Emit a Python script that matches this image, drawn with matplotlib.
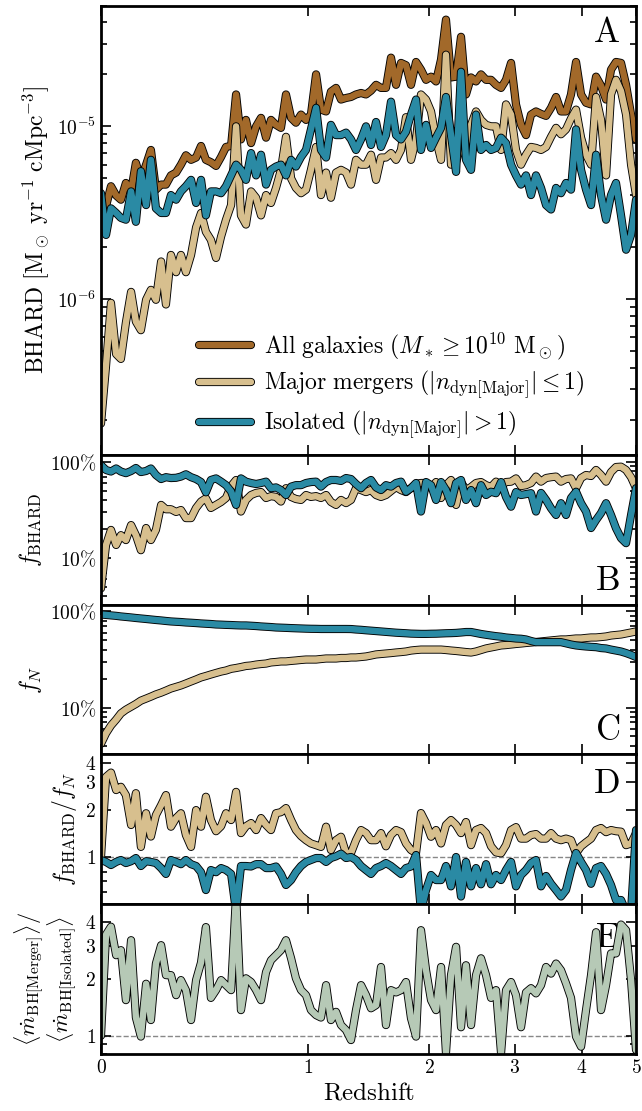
import numpy as np
import matplotlib
matplotlib.use('Agg')
import matplotlib.pyplot as plt
import matplotlib.patheffects as pe
from matplotlib.ticker import FixedLocator, FixedFormatter, NullFormatter, LogLocator

plt.rcParams['font.family'] = 'serif'
plt.rcParams['font.serif'] = ['cmr10']
plt.rcParams['mathtext.fontset'] = 'cm'
plt.rcParams['axes.unicode_minus'] = False
plt.rcParams['axes.formatter.use_mathtext'] = True

# sample redshifts
redshift = [0.000, 0.017, 0.034, 0.052, 0.069, 0.087, 0.106, 0.124, 0.143, 0.163,
            0.182, 0.202, 0.223, 0.243, 0.264, 0.286, 0.307, 0.329, 0.352, 0.375,
            0.398, 0.421, 0.445, 0.470, 0.495, 0.520, 0.546, 0.572, 0.598, 0.625,
            0.653, 0.681, 0.709, 0.738, 0.767, 0.797, 0.827, 0.858, 0.890, 0.921,
            0.954, 0.987, 1.020, 1.055, 1.089, 1.125, 1.160, 1.197, 1.234, 1.272,
            1.310, 1.349, 1.389, 1.429, 1.470, 1.512, 1.554, 1.597, 1.641, 1.686,
            1.731, 1.777, 1.824, 1.872, 1.920, 1.970, 2.020, 2.071, 2.123, 2.175,
            2.229, 2.284, 2.339, 2.395, 2.453, 2.511, 2.570, 2.631, 2.692, 2.754,
            2.818, 2.882, 2.948, 3.014, 3.082, 3.151, 3.221, 3.292, 3.365, 3.439,
            3.514, 3.590, 3.667, 3.746, 3.826, 3.908, 3.991, 4.075, 4.161, 4.248,
            4.336, 4.427, 4.518, 4.611, 4.706, 4.803, 4.901, 5.000]

# BHARD in units of 1e-6 Msun / yr / cMpc^3
bhard_all = [3.95, 3.45, 4.5, 3.98, 3.76, 4.7, 4.2, 6.15, 4.9, 6.0,
             7.3, 4.3, 4.6, 4.6, 5.2, 5.4, 6.0, 6.8, 6.4, 6.6,
             7.7, 6.4, 6.2, 5.9, 6.65, 7.6, 7.7, 15.3, 8.4, 10.9,
             8.0, 10.0, 11.2, 8.6, 10.9, 10.2, 9.8, 15.3, 11.2, 10.5,
             11.7, 10.9, 11.7, 20.0, 12.5, 12.2, 15.9, 16.7, 14.3, 14.6,
             14.8, 15.3, 15.6, 15.3, 16.1, 17.4, 16.7, 16.7, 25.0, 17.4,
             23.3, 22.6, 17.4, 23.6, 21.3, 18.6, 19.4, 18.2, 24.4, 41.5,
             19.2, 19.4, 33.0, 15.3, 19.2, 18.2, 20.0, 18.6, 18.6, 17.4,
             16.7, 18.6, 23.3, 13.4, 10.2, 8.9, 11.7, 12.2, 11.8, 11.5,
             12.8, 14.8, 12.2, 12.2, 15.3, 23.6, 15.3, 13.7, 13.4, 19.4,
             17.2, 14.3, 21.3, 23.6, 23.3, 17.4, 11.7, 8.4]
bhard_major = [0.19, 0.41, 0.95, 0.48, 0.45, 0.73, 1.1, 0.74, 0.66, 0.99,
               1.13, 0.99, 1.65, 0.93, 1.8, 1.43, 1.8, 1.43, 1.8, 2.6,
               3.15, 2.45, 2.2, 1.73, 2.3, 2.88, 3.5, 10.0, 3.05, 2.7,
               4.2, 3.86, 3.05, 4.0, 3.6, 4.4, 5.6, 8.7, 5.0, 4.4,
               4.1, 4.3, 5.6, 7.6, 4.0, 5.4, 3.86, 5.4, 5.6, 5.4,
               4.6, 6.4, 6.0, 6.0, 6.85, 4.9, 6.6, 6.6, 7.0, 6.4,
               7.3, 11.3, 6.4, 8.4, 15.3, 14.3, 12.2, 8.4, 6.4, 26.0,
               6.0, 6.2, 7.8, 7.8, 10.2, 12.2, 10.9, 10.2, 10.0, 10.0,
               7.3, 13.4, 11.7, 7.3, 6.0, 6.85, 7.6, 7.5, 7.3, 7.6,
               8.7, 9.8, 9.0, 9.6, 11.1, 12.5, 8.6, 6.85, 6.0, 14.8,
               10.9, 5.2, 15.3, 18.6, 16.0, 11.7, 6.0, 4.0]
bhard_iso = [4.1, 2.35, 3.35, 3.15, 2.95, 2.88, 4.2, 2.8, 5.5, 3.5,
             6.4, 3.35, 3.15, 3.15, 4.0, 3.76, 4.2, 4.5, 4.9, 3.6,
             4.9, 3.05, 4.2, 4.2, 4.1, 4.5, 5.2, 6.0, 5.6, 4.9,
             7.0, 5.2, 6.85, 4.6, 5.6, 5.85, 6.0, 5.2, 6.4, 5.85,
             6.65, 7.3, 9.6, 12.8, 7.3, 6.6, 10.2, 8.9, 8.9, 9.2,
             8.4, 7.3, 8.4, 10.0, 7.8, 10.6, 7.6, 8.9, 13.9, 8.9,
             8.4, 9.3, 11.7, 14.3, 7.3, 10.2, 7.5, 8.6, 9.8, 14.8,
             8.9, 5.45, 20.7, 6.4, 5.6, 11.7, 7.3, 7.8, 7.3, 7.5,
             8.6, 8.0, 6.0, 5.2, 4.6, 5.2, 4.0, 5.2, 4.4, 3.5,
             3.3, 4.4, 4.1, 4.7, 4.3, 9.6, 5.6, 4.3, 3.5, 6.85,
             4.0, 2.88, 4.0, 4.7, 3.05, 1.93, 2.35, 3.76]

# fraction of BHARD, percent
fbhard_major = [4.8, 13.6, 19.5, 13.6, 17.2, 15.3, 21.9, 17.2, 12.0, 20.4,
                15.3, 19.5, 35.5, 32.0, 32.0, 30.0, 31.4, 25.9, 25.9, 33.0,
                38.5, 41.6, 33.0, 35.5, 38.1, 41.9, 55.8, 64.5, 30.3, 40.0,
                45.0, 47.3, 48.3, 41.9, 43.8, 43.0, 38.5, 53.0, 43.0, 40.9,
                40.0, 45.0, 43.0, 43.8, 41.9, 45.0, 38.1, 35.5, 40.0, 37.1,
                40.0, 53.0, 50.7, 48.3, 50.7, 45.0, 43.0, 45.0, 49.5, 54.5,
                50.7, 48.3, 53.2, 58.6, 60.0, 60.0, 53.2, 61.4, 41.9, 57.0,
                64.5, 35.5, 61.4, 50.7, 54.5, 60.0, 61.4, 57.0, 54.5, 62.0,
                55.8, 61.4, 62.0, 67.0, 55.8, 57.0, 60.0, 70.0, 62.0, 67.6,
                69.0, 70.0, 62.0, 66.0, 67.0, 53.0, 67.6, 72.7, 71.0, 82.0,
                72.7, 62.0, 78.0, 88.0, 88.7, 82.0, 69.0, 53.0]
fbhard_iso = [92, 82, 79, 85, 79, 76, 80, 86, 78, 80,
              85, 72.7, 66, 69, 67.6, 68, 70, 74, 69, 66,
              61.4, 48, 64.5, 67, 62, 57, 49, 35.5, 67, 62,
              60, 58.6, 60, 62, 53, 54, 50.7, 45, 55, 57,
              57, 60, 61.4, 62, 55, 61.4, 64.5, 64.5, 63, 67.6,
              66, 58.6, 53, 60, 64.5, 54, 50.7, 57, 55, 60,
              62, 48.7, 53, 60, 30.3, 61.4, 57, 40, 61.4, 50.7,
              37, 60, 64.5, 40, 50.7, 37, 57, 45, 48.7, 47,
              61.4, 43, 34, 48.3, 45, 46, 47, 30.3, 47.3, 40,
              32.7, 27.9, 37, 27.9, 41.9, 48.7, 37, 30.3, 20.4, 24.7,
              29.2, 37, 27.9, 20.3, 16, 14.2, 27.9, 53]

# fraction of galaxies, percent
fn_major = [4.2, 5.4, 6.5, 7.5, 8.7, 9.5, 10.2, 10.9, 11.8, 12.4,
            13.0, 13.7, 14.3, 15.0, 15.8, 16.4, 17.0, 17.8, 18.7, 19.6,
            20.6, 21.3, 22.1, 22.9, 23.7, 24.3, 25.3, 25.8, 26.4, 27.1,
            27.4, 28.0, 28.4, 28.7, 29.5, 29.8, 30.2, 30.2, 30.6, 30.9,
            31.3, 31.6, 31.6, 31.6, 32.0, 32.4, 32.4, 32.4, 32.8, 32.8,
            33.2, 33.2, 33.6, 34.0, 34.8, 35.7, 36.1, 36.5, 36.9, 37.4,
            37.8, 38.3, 39.2, 39.7, 40.1, 40.1, 40.1, 40.1, 40.1, 39.7,
            39.2, 38.8, 38.3, 37.8, 37.4, 38.3, 39.7, 41.2, 42.2, 43.2,
            44.3, 44.7, 45.3, 45.9, 46.4, 47.0, 47.5, 48.1, 48.7, 49.3,
            49.9, 50.5, 51.1, 51.1, 51.7, 52.3, 52.3, 53.0, 53.6, 53.6,
            54.2, 54.9, 56.2, 56.9, 57.6, 59.0, 60.4, 61.9]
fn_iso = [93, 92, 91, 90, 88.7, 87.7, 86.6, 85.5, 84.5, 83.5,
          82.5, 81.5, 80.6, 79.6, 78.7, 78.1, 77.6, 76.8, 76.3, 75.7,
          75.0, 74.5, 74.0, 73.2, 72.9, 72.5, 72.2, 71.8, 71.5, 71.5,
          71.0, 70.5, 69.8, 69.3, 68.8, 68.1, 67.8, 67.5, 67.1, 66.8,
          66.5, 66.2, 66.0, 65.9, 65.7, 65.7, 65.7, 65.7, 65.7, 65.7,
          65.6, 64.9, 64.4, 63.7, 63.1, 62.5, 61.9, 61.3, 60.7, 60.1,
          59.7, 59.3, 58.8, 58.6, 58.4, 58.4, 58.6, 58.7, 59.0, 59.3,
          59.5, 59.8, 60.4, 61.1, 61.1, 59.7, 58.3, 57.2, 56.2, 55.3,
          54.6, 53.6, 53.0, 52.3, 52.0, 51.1, 49.3, 47.9, 47.9, 47.9,
          47.9, 47.9, 47.9, 46.6, 45.3, 44.3, 43.7, 43.2, 42.8, 42.5,
          41.6, 41.2, 40.1, 39.2, 38.3, 36.9, 35.3, 33.6]

# f_BHARD / f_N
ratio_major = [1.0, 3.24, 3.45, 2.67, 2.8, 2.48, 1.6, 2.55, 1.16, 1.9,
               1.35, 1.85, 2.14, 2.48, 1.56, 1.77, 1.9, 1.38, 1.16, 1.99,
               1.56, 2.42, 1.72, 1.46, 1.57, 1.9, 1.72, 2.6, 1.42, 1.57,
               1.645, 1.485, 1.77, 1.6, 1.485, 1.9, 1.93, 2.05, 1.72, 1.485,
               1.36, 1.28, 1.22, 1.19, 1.16, 1.56, 1.108, 1.28, 1.346, 1.056,
               1.06, 1.28, 1.485, 1.42, 1.28, 1.28, 1.42, 1.17, 1.38, 1.485,
               1.44, 1.22, 1.108, 1.06, 1.905, 1.645, 1.346, 1.485, 1.22, 1.6,
               1.72, 1.6, 1.42, 1.67, 1.19, 1.485, 1.53, 1.42, 1.17, 1.07,
               1.056, 1.19, 1.485, 1.55, 1.31, 1.31, 1.38, 1.40, 1.31, 1.31,
               1.42, 1.31, 1.28, 1.31, 1.28, 1.056, 1.17, 1.24, 1.31, 1.485,
               1.53, 1.44, 1.485, 1.46, 1.45, 1.19, 1.22, 1.42]
ratio_iso = [0.957, 0.93, 0.889, 0.93, 0.957, 0.915, 0.94, 0.985, 0.876, 0.94,
             0.93, 0.915, 0.85, 0.78, 0.957, 0.93, 0.9, 0.957, 0.9, 0.876,
             0.80, 0.616, 0.826, 0.80, 0.85, 0.826, 0.78, 0.45, 0.876, 0.876,
             0.87, 0.9, 0.9, 0.85, 0.85, 0.87, 0.78, 0.663, 0.713, 0.80,
             0.876, 0.93, 0.957, 0.985, 0.985, 0.93, 0.985, 1.01, 1.05, 0.985,
             1.0, 0.957, 0.876, 0.826, 0.78, 0.85, 0.876, 0.915, 0.876, 0.826,
             0.78, 0.85, 0.87, 1.03, 0.45, 0.616, 0.768, 0.713, 0.713, 0.876,
             0.65, 1.0, 0.56, 0.93, 0.65, 0.85, 0.67, 0.9, 0.67, 0.768,
             0.713, 0.826, 0.93, 0.65, 0.768, 0.826, 0.915, 0.957, 0.65, 0.757,
             0.675, 0.616, 0.56, 0.616, 0.826, 1.06, 0.93, 0.826, 0.675, 0.85,
             0.876, 0.78, 0.663, 0.532, 0.532, 0.45, 0.45, 1.485]

# <mdot merger> / <mdot isolated>
mdot_ratio = [1.0, 3.45, 3.8, 2.68, 2.85, 1.547, 3.22, 1.25, 0.99, 1.89,
              1.212, 2.42, 3.03, 2.1, 2.1, 1.644, 1.976, 1.748, 1.212, 1.976,
              2.45, 3.78, 1.59, 1.748, 1.976, 1.858, 1.748, 5.6, 1.369, 2.02,
              1.93, 1.748, 1.547, 2.18, 2.52, 2.68, 2.85, 3.22, 2.58, 2.02,
              1.748, 1.644, 1.369, 1.288, 1.25, 1.858, 1.212, 1.34, 1.14, 1.072,
              0.949, 1.369, 1.858, 1.644, 1.4, 1.455, 2.32, 1.14, 1.748, 1.7,
              1.748, 1.93, 1.24, 0.99, 3.64, 2.23, 1.547, 1.369, 2.32, 0.81,
              2.1, 2.97, 1.11, 2.37, 1.14, 2.1, 2.58, 2.1, 1.59, 1.748,
              0.81, 1.748, 1.93, 1.644, 1.11, 1.7, 1.79, 1.68, 1.858, 2.32,
              2.14, 2.42, 2.23, 1.9, 1.59, 0.99, 0.875, 1.369, 2.1, 3.55,
              1.369, 1.858, 2.74, 2.74, 3.9, 3.64, 1.976, 0.84]

c_all = '#A2692A'
c_major = '#D7BF8E'
c_iso = '#2A8AA4'
c_ratio = '#B6C9B6'

z = np.array(redshift)


def thick(ax, y, color, label=None):
    ax.plot(z, y, color=color, lw=4.6, label=label, solid_joinstyle='round',
            solid_capstyle='round',
            path_effects=[pe.Stroke(linewidth=5.9, foreground='k'), pe.Normal()])


fig, axes = plt.subplots(5, 1, sharex=True, figsize=(6.42, 11.11), dpi=100,
                         gridspec_kw=dict(height_ratios=[3, 1, 1, 1, 1], hspace=0,
                                          left=0.1573, right=0.9907,
                                          top=0.9949, bottom=0.0513))
axA, axB, axC, axD, axE = axes

# A: BHARD
thick(axA, np.array(bhard_all) * 1e-6, c_all,
      r'$\mathrm{All\ galaxies}\ (M_* \geq 10^{10}\ \mathrm{M}_\odot)$')
thick(axA, np.array(bhard_major) * 1e-6, c_major,
      r'$\mathrm{Major\ mergers}\ (|n_\mathrm{dyn[Major]}| \leq 1)$')
thick(axA, np.array(bhard_iso) * 1e-6, c_iso,
      r'$\mathrm{Isolated}\ (|n_\mathrm{dyn[Major]}| > 1)$')
axA.set_yscale('log')
axA.set_ylim(1.25e-7, 5e-5)
axA.set_ylabel(r'$\mathrm{BHARD}\ [\mathrm{M}_\odot\ \mathrm{yr}^{-1}\ \mathrm{cMpc}^{-3}]$',
               fontsize=17)
axA.yaxis.set_minor_formatter(NullFormatter())
leg = axA.legend(loc='lower left', bbox_to_anchor=(0.183, 0.031), frameon=False,
                 fontsize=17, handlelength=2.2, handletextpad=0.55,
                 labelspacing=0.3, borderpad=0, borderaxespad=0)

# B: f_BHARD
thick(axB, fbhard_major, c_major)
thick(axB, fbhard_iso, c_iso)
axB.set_ylabel(r'$f_\mathrm{BHARD}$', fontsize=17)

# C: f_N
thick(axC, fn_major, c_major)
thick(axC, fn_iso, c_iso)
axC.set_ylabel(r'$f_N$', fontsize=17)

for ax in (axB, axC):
    ax.set_yscale('log')
    ax.set_ylim(3.25, 117.5)
    ax.yaxis.set_major_locator(FixedLocator([10, 100]))
    ax.yaxis.set_major_formatter(FixedFormatter([r'$10\%$', r'$100\%$']))
    ax.yaxis.set_minor_locator(LogLocator(base=10, subs=np.arange(2, 10)))
    ax.yaxis.set_minor_formatter(NullFormatter())

# D: f_BHARD / f_N
axD.axhline(1, color='#888888', ls='--', lw=1.0, zorder=1)
thick(axD, ratio_major, c_major)
thick(axD, ratio_iso, c_iso)
axD.set_yscale('log')
axD.set_ylim(0.5, 4.5)
axD.set_ylabel(r'$f_\mathrm{BHARD}/f_N$', fontsize=17)
axD.yaxis.set_minor_locator(FixedLocator([0.5, 0.6, 0.7, 0.8, 0.9]))

# E: accretion rate ratio
axE.axhline(1, color='#888888', ls='--', lw=1.0, zorder=1)
thick(axE, mdot_ratio, c_ratio)
axE.set_yscale('log')
axE.set_ylim(0.8, 5)
axE.set_ylabel(r'$\langle\dot{m}_\mathrm{BH[Merger]}\rangle/$' + '\n'
               + r'$\langle\dot{m}_\mathrm{BH[Isolated]}\rangle$', fontsize=16,
               linespacing=1.0)
axE.yaxis.set_minor_locator(FixedLocator([0.8, 0.9]))

for ax in (axD, axE):
    ax.yaxis.set_major_locator(FixedLocator([1, 2, 3, 4]))
    ax.yaxis.set_major_formatter(FixedFormatter([r'$1$', r'$2$', r'$3$', r'$4$']))
    ax.yaxis.set_minor_formatter(NullFormatter())

fwd = lambda x: np.log10(1 + np.asarray(x, dtype=float))
inv = lambda y: 10 ** np.asarray(y, dtype=float) - 1
for ax in axes:
    ax.set_xscale('function', functions=(fwd, inv))
    ax.set_xlim(0, 5)
    ax.set_xticks([0, 1, 2, 3, 4, 5])
    ax.tick_params(which='both', direction='in', top=True, right=True,
                   labelsize=14, width=1.2)
    ax.tick_params(which='major', length=7)
    ax.tick_params(which='minor', length=4)
    for s in ax.spines.values():
        s.set_linewidth(2.0)

axE.set_xticklabels([r'$0$', r'$1$', r'$2$', r'$3$', r'$4$', r'$5$'])
axE.set_xlabel(r'$\mathrm{Redshift}$', fontsize=18)

# panel letters
letters = [(axA, 'A', 0.975, 'top'), (axB, 'B', 0.097, 'baseline'),
           (axC, 'C', 0.095, 'baseline'), (axD, 'D', 0.909, 'top'),
           (axE, 'E', 0.88, 'top')]
for ax, t, y, va in letters:
    ax.text(0.97, y, r'$\mathrm{%s}$' % t, transform=ax.transAxes, ha='right',
            va=va, fontsize=25, zorder=1)

fig.savefig('out.png', dpi=100)
